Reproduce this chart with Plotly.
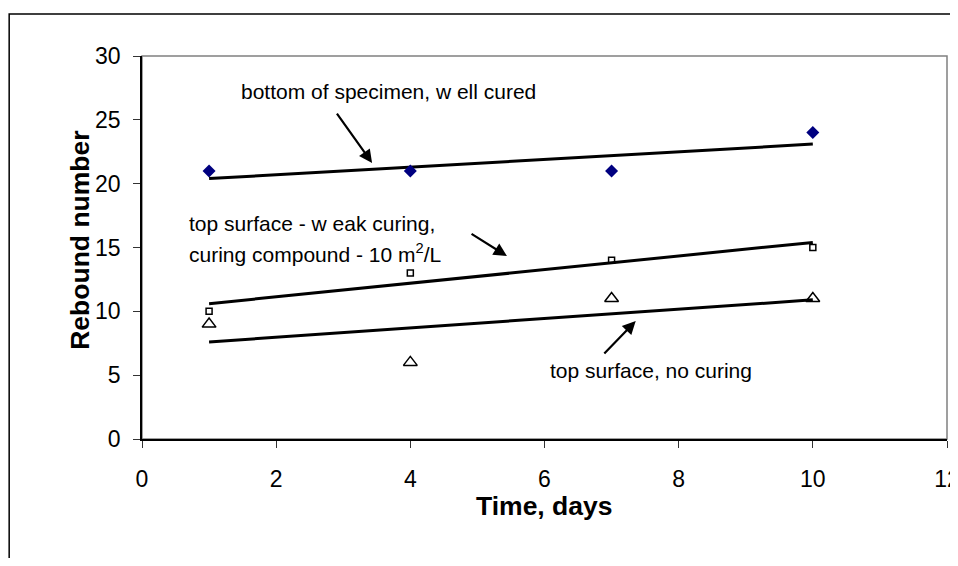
import numpy as np
import plotly.graph_objects as go

# measured data (days vs rebound number)
days = [1, 4, 7, 10]
well_cured = [21, 21, 21, 24]
weak_curing = [10, 13, 14, 15]
no_curing = [9, 6, 11, 11]

x_ticks = [0, 2, 4, 6, 8, 10, 12]
y_ticks = [0, 5, 10, 15, 20, 25, 30]

FONT = "Liberation Sans, Arial, sans-serif"


def trend(x, y):
    # least squares line like the Excel linear trendline
    k, b = np.polyfit(x, y, 1)
    xs = [min(x), max(x)]
    return xs, [k * v + b for v in xs]


fig = go.Figure()

for ys in [well_cured, weak_curing, no_curing]:
    tx, ty = trend(days, ys)
    fig.add_trace(go.Scatter(x=tx, y=ty, mode="lines",
                             line=dict(color="black", width=3),
                             showlegend=False, hoverinfo="skip"))

fig.add_trace(go.Scatter(x=days, y=well_cured, mode="markers", name="well cured",
                         marker=dict(symbol="diamond", size=10, color="#000080")))
fig.add_trace(go.Scatter(x=days, y=weak_curing, mode="markers", name="weak curing",
                         marker=dict(symbol="square-open", size=6, color="black",
                                     line=dict(width=1.5))))
fig.add_trace(go.Scatter(x=days, y=no_curing, mode="markers", name="no curing",
                         marker=dict(symbol="triangle-up-open", size=12, color="black",
                                     line=dict(width=1.5))))

# labels and arrows
txt = dict(family=FONT, size=21, color="black")
fig.add_annotation(x=3.68, y=27.2, text="bottom of specimen, w ell cured",
                   showarrow=False, font=txt)
fig.add_annotation(x=0.67, y=16.9, text="top surface - w eak curing,",
                   showarrow=False, font=txt, xanchor="left")
fig.add_annotation(x=0.67, y=14.55, text="curing compound - 10 m<sup>2</sup>/L",
                   showarrow=False, font=txt, xanchor="left")
fig.add_annotation(x=7.59, y=5.4, text="top surface, no curing",
                   showarrow=False, font=txt)

arrows = [((3.43, 21.62), (2.89, 25.61)),
          ((5.44, 14.33), (4.89, 16.14)),
          ((7.36, 9.24), (6.87, 6.58))]
for (hx, hy), (tx, ty) in arrows:
    fig.add_annotation(x=hx, y=hy, ax=tx, ay=ty, axref="x", ayref="y",
                       text="", showarrow=True, arrowhead=2, arrowsize=1.2,
                       arrowwidth=2.2, arrowcolor="black")

# axis titles
fig.add_annotation(xref="paper", yref="paper", x=0.5, y=-0.219,
                   text="<b>Time, days</b>", showarrow=False,
                   font=dict(family=FONT, size=26.5, color="black"))
fig.add_annotation(xref="paper", yref="paper", x=-0.0982, y=0.52,
                   text="<b>Rebound number</b>", showarrow=False, textangle=-90,
                   font=dict(family=FONT, size=26.5, color="black"))

# plot area frame (grey) and outer chart border
fig.add_shape(type="rect", xref="paper", yref="paper", x0=0, x1=1, y0=0, y1=1,
              line=dict(color="#808080", width=1.5), layer="below")
fig.add_shape(type="rect", xref="paper", yref="paper", x0=-0.165, x1=1.2,
              y0=-0.5, y1=1.1097, line=dict(color="black", width=1.5))

axis_style = dict(showgrid=False, zeroline=False, showline=True,
                  linecolor="black", linewidth=1.5, ticks="outside",
                  ticklen=7, tickcolor="#333333", tickwidth=1,
                  ticklabeloverflow="allow", automargin=False,
                  tickfont=dict(family=FONT, size=23, color="black"))

fig.update_xaxes(range=[0, 12], tickvals=x_ticks, ticklabelstandoff=12, **axis_style)
fig.update_yaxes(range=[0, 30], tickvals=y_ticks, ticklabelstandoff=8, **axis_style)

# page body has an 8px margin, so the figure is shifted and a bit smaller
fig.update_layout(width=942, height=550,
                  margin=dict(l=134, r=3, t=48, b=119),
                  paper_bgcolor="white", plot_bgcolor="white",
                  showlegend=False)

fig.write_html("out.html")
